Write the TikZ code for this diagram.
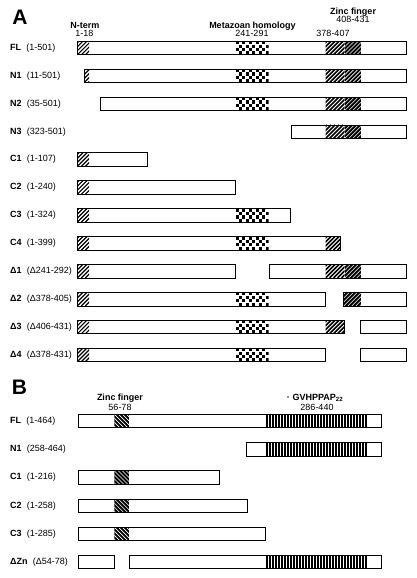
\documentclass[tikz,border=0pt]{standalone}
\usepackage{fontspec}
\setmainfont{Liberation Sans}
% bar outline: x1, x2, y
\newcommand{\protseg}[3]{\draw[barline] (#1,#3-6.8) rectangle (#2,#3+6.8);}
% north-east hatch: x1, x2, y, line style, background colour
\newcommand{\nehatch}[5]{%
  \begin{scope}
    \clip (#1,#3-6.8) rectangle (#2,#3+6.8);
    \fill[#5] (#1,#3-6.8) rectangle (#2,#3+6.8);
    \foreach \k in {-16,-12,...,24} {\draw[#4] (#1+\k,#3+6.8) -- ++(13.6,-13.6);}
  \end{scope}}
% north-west hatch
\newcommand{\nwhatch}[5]{%
  \begin{scope}
    \clip (#1,#3-6.8) rectangle (#2,#3+6.8);
    \fill[#5] (#1,#3-6.8) rectangle (#2,#3+6.8);
    \foreach \k in {-16,-12,...,24} {\draw[#4] (#1+\k,#3-6.8) -- ++(13.6,13.6);}
  \end{scope}}
% checker (metazoan homology): x1, y
\newcommand{\checkdom}[2]{%
  \begin{scope}
    \clip (#1,#2-6.8) rectangle (#1+33,#2+6.8);
    \foreach \i in {0,...,9} {\foreach \j in {0,...,3} {%
      \pgfmathtruncatemacro\sumij{\i+\j}%
      \ifodd\sumij\else
        \fill[black] (#1+0.3+\i*3.3,#2-6.8+\j*3.4) rectangle ++(3.0,3.1);
      \fi}}
  \end{scope}}
% vertical lines (GVHPPAP repeats): x1, x2, y
\newcommand{\vdom}[3]{%
  \begin{scope}
    \clip (#1,#3-6.8) rectangle (#2,#3+6.8);
    \foreach \k in {0,3,...,102} {\fill[black] (#1+\k,#3-6.8) rectangle ++(1.8,13.6);}
  \end{scope}}
\begin{document}
\begin{tikzpicture}[x=1pt,y=-1pt,
  barline/.style={draw=black,line width=0.8pt},
  ntl/.style={line width=1.2pt,black},
  zfl/.style={line width=1.6pt,black},
  wl/.style={line width=0.6pt,white},
  txt/.style={inner sep=0pt,font=\fontsize{9}{10}\selectfont},
  rowlab/.style={txt,anchor=west},
  hdr/.style={txt,anchor=base,font=\fontsize{9}{10}\selectfont\bfseries},
  num/.style={txt,anchor=base},
  panel/.style={inner sep=0pt,anchor=base,font=\fontsize{21}{22}\selectfont\bfseries}]
\useasboundingbox (0,0) rectangle (416,578);
% ---------------- Panel A ----------------
\node[panel] (pA) at (20,25) {A};
\node[hdr] (hNT) at (85,29) {N-term};
\node[num] (nNT) at (84.5,37) {1-18};
\node[hdr] (hMZ) at (252.5,29) {Metazoan homology};
\node[num] (nMZ) at (252,37) {241-291};
\node[hdr] (hZF) at (353,14.5) {Zinc finger};
\node[num] (nZF2) at (353,23) {408-431};
\node[num] (nZF1) at (333,37) {378-407};
% FL
\node[rowlab] (lFL) at (10,48) {\textbf{FL}\hspace{0.3em} (1-501)};
\nehatch{77.3}{89.2}{48}{ntl}{white}\checkdom{235.5}{48}\nehatch{325.5}{344.7}{48}{zfl}{white}\nehatch{344.7}{360.8}{48}{wl}{black}
\protseg{77.3}{406.7}{48}
% N1
\node[rowlab] (lN1) at (10,75.9) {\textbf{N1}\hspace{0.3em} (11-501)};
\nehatch{84}{89.2}{75.9}{ntl}{white}\checkdom{235.5}{75.9}\nehatch{325.5}{344.7}{75.9}{zfl}{white}\nehatch{344.7}{360.8}{75.9}{wl}{black}
\protseg{84}{406.7}{75.9}
% N2
\node[rowlab] (lN2) at (10,103.8) {\textbf{N2}\hspace{0.3em} (35-501)};
\checkdom{235.5}{103.8}\nehatch{325.5}{344.7}{103.8}{zfl}{white}\nehatch{344.7}{360.8}{103.8}{wl}{black}
\protseg{100.5}{406.7}{103.8}
% N3
\node[rowlab] (lN3) at (10,131.7) {\textbf{N3}\hspace{0.3em} (323-501)};
\nehatch{325.5}{344.7}{131.7}{zfl}{white}\nehatch{344.7}{360.8}{131.7}{wl}{black}
\protseg{291}{406.7}{131.7}
% C1
\node[rowlab] (lC1) at (10,159.6) {\textbf{C1}\hspace{0.3em} (1-107)};
\nehatch{77.3}{89.2}{159.6}{ntl}{white}
\protseg{77.3}{147.6}{159.6}
% C2
\node[rowlab] (lC2) at (10,187.5) {\textbf{C2}\hspace{0.3em} (1-240)};
\nehatch{77.3}{89.2}{187.5}{ntl}{white}
\protseg{77.3}{235.5}{187.5}
% C3
\node[rowlab] (lC3) at (10,215.4) {\textbf{C3}\hspace{0.3em} (1-324)};
\nehatch{77.3}{89.2}{215.4}{ntl}{white}\checkdom{235.5}{215.4}
\protseg{77.3}{290.2}{215.4}
% C4
\node[rowlab] (lC4) at (10,243.3) {\textbf{C4}\hspace{0.3em} (1-399)};
\nehatch{77.3}{89.2}{243.3}{ntl}{white}\checkdom{235.5}{243.3}\nehatch{325.5}{340.5}{243.3}{zfl}{white}
\protseg{77.3}{340.5}{243.3}
% D1
\node[rowlab] (lD1) at (10,271.2) {\textbf{Δ1}\hspace{0.3em} (Δ241-292)};
\nehatch{77.3}{89.2}{271.2}{ntl}{white}
\protseg{77.3}{235.5}{271.2}
\nehatch{325.5}{344.7}{271.2}{zfl}{white}\nehatch{344.7}{360.8}{271.2}{wl}{black}
\protseg{269}{406.7}{271.2}
% D2
\node[rowlab] (lD2) at (10,299.1) {\textbf{Δ2}\hspace{0.3em} (Δ378-405)};
\nehatch{77.3}{89.2}{299.1}{ntl}{white}\checkdom{235.5}{299.1}
\protseg{77.3}{325.5}{299.1}
\nehatch{343.8}{360.8}{299.1}{wl}{black}
\protseg{343.8}{406.7}{299.1}
% D3
\node[rowlab] (lD3) at (10,327) {\textbf{Δ3}\hspace{0.3em} (Δ406-431)};
\nehatch{77.3}{89.2}{327}{ntl}{white}\checkdom{235.5}{327}\nehatch{325.5}{344.7}{327}{zfl}{white}
\protseg{77.3}{344.7}{327}
\protseg{360.8}{406.7}{327}
% D4
\node[rowlab] (lD4) at (10,354.9) {\textbf{Δ4}\hspace{0.3em} (Δ378-431)};
\nehatch{77.3}{89.2}{354.9}{ntl}{white}\checkdom{235.5}{354.9}
\protseg{77.3}{325.5}{354.9}
\protseg{360.8}{406.7}{354.9}
% ---------------- Panel B ----------------
\node[panel] (pB) at (19.5,394) {B};
\node[hdr] (hZFB) at (120,400.7) {Zinc finger};
\node[num] (nZFB) at (120,410.5) {56-78};
\node[hdr] (hGV) at (315,400.7) {·\hspace{0.3em}GVHPPAP\textsubscript{22}};
\node[num] (nGV) at (317,410.5) {286-440};
% FL
\node[rowlab] (bFL) at (10,421) {\textbf{FL}\hspace{0.3em} (1-464)};
\nwhatch{114.3}{129.3}{421}{wl}{black}\vdom{265.7}{367.7}{421}
\protseg{78.3}{381}{421}
% N1
\node[rowlab] (bN1) at (10,449.2) {\textbf{N1}\hspace{0.3em} (258-464)};
\vdom{265.7}{367.7}{449.2}
\protseg{246.7}{381}{449.2}
% C1
\node[rowlab] (bC1) at (10,477.6) {\textbf{C1}\hspace{0.3em} (1-216)};
\nwhatch{114.3}{129.3}{477.6}{wl}{black}
\protseg{78.3}{219.3}{477.6}
% C2
\node[rowlab] (bC2) at (10,505.8) {\textbf{C2}\hspace{0.3em} (1-258)};
\nwhatch{114.3}{129.3}{505.8}{wl}{black}
\protseg{78.3}{247.7}{505.8}
% C3
\node[rowlab] (bC3) at (10,534) {\textbf{C3}\hspace{0.3em} (1-285)};
\nwhatch{114.3}{129.3}{534}{wl}{black}
\protseg{78.3}{265.7}{534}
% DZn
\node[rowlab] (bDZ) at (10,562) {\textbf{ΔZn}\hspace{0.3em} (Δ54-78)};
\protseg{78.3}{114.3}{562}
\vdom{265.7}{367.7}{562}
\protseg{129.3}{381}{562}
\end{tikzpicture}
\end{document}
